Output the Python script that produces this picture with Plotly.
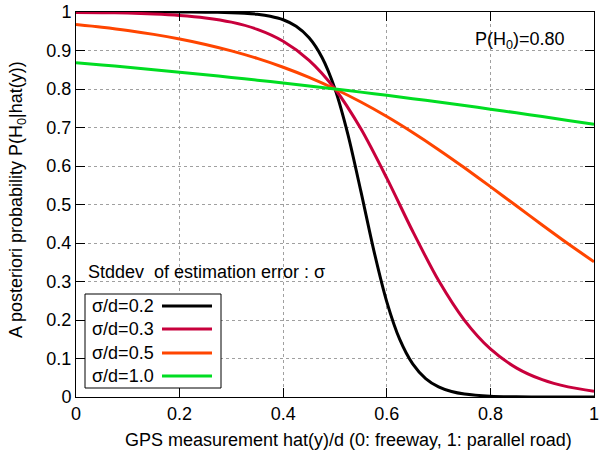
import plotly.graph_objects as go

# ---- data ----
x_s02 = [0.0, 0.1, 0.2, 0.25, 0.3, 0.325, 0.35, 0.375, 0.4, 0.425, 0.45, 0.475, 0.5,
         0.525, 0.55, 0.575, 0.6, 0.625, 0.65, 0.675, 0.7, 0.725, 0.75, 0.8, 0.85, 0.9, 1.0]
y_s02 = [1.0, 1.0, 0.9999, 0.9995, 0.9983, 0.9969, 0.9942, 0.9891, 0.9799, 0.9631, 0.9332, 0.8820, 0.8,
         0.6816, 0.5340, 0.3802, 0.2472, 0.1495, 0.0860, 0.0479, 0.0262, 0.0142, 0.0077, 0.0022, 0.0006, 0.0002, 0.0]

x_grid = [0.0, 0.05, 0.1, 0.15, 0.2, 0.25, 0.3, 0.35, 0.4, 0.45, 0.5,
          0.55, 0.6, 0.65, 0.7, 0.75, 0.8, 0.85, 0.9, 0.95, 1.0]
y_s03 = [0.9990, 0.9983, 0.9971, 0.9949, 0.9912, 0.9847, 0.9736, 0.9549, 0.9240, 0.8746, 0.8,
         0.6965, 0.5684, 0.4304, 0.3024, 0.1992, 0.1249, 0.0757, 0.0449, 0.0262, 0.0152]
y_s05 = [0.9673, 0.9603, 0.9520, 0.9419, 0.9300, 0.9158, 0.8990, 0.8794, 0.8565, 0.8301, 0.8,
         0.7661, 0.7284, 0.6870, 0.6425, 0.5954, 0.5464, 0.4966, 0.4468, 0.3980, 0.3512]
y_s10 = [0.8683, 0.8625, 0.8565, 0.8502, 0.8437, 0.8370, 0.8301, 0.8229, 0.8155, 0.8079, 0.8,
         0.7919, 0.7835, 0.7749, 0.7661, 0.7570, 0.7477, 0.7382, 0.7284, 0.7183, 0.7081]

series_names = ["σ/d=0.2", "σ/d=0.3", "σ/d=0.5", "σ/d=1.0"]
series_x = [x_s02, x_grid, x_grid, x_grid]
series_y = [y_s02, y_s03, y_s05, y_s10]
colors = ["#000000", "#c8003c", "#ff4500", "#00dd22"]

tick_vals_x = [0, 0.2, 0.4, 0.6, 0.8, 1]
tick_text_x = ["0", "0.2", "0.4", "0.6", "0.8", "1"]
tick_vals_y = [0, 0.1, 0.2, 0.3, 0.4, 0.5, 0.6, 0.7, 0.8, 0.9, 1]
tick_text_y = ["0", "0.1", "0.2", "0.3", "0.4", "0.5", "0.6", "0.7", "0.8", "0.9", "1"]

# ---- layout geometry (pixels) ----
W, H = 599, 453
L, R, T, B = 76, 5, 12, 56
PW, PH = W - L - R, H - T - B
FONT = "Liberation Sans, Arial, sans-serif"
FS = 18


def px(xp):
    return (xp - L) / PW


def py(yp):
    return (H - B - yp) / PH


fig = go.Figure()
for xs, ys, c, n in zip(series_x, series_y, colors, series_names):
    fig.add_trace(go.Scatter(x=xs, y=ys, mode="lines", name=n,
                             line=dict(color=c, width=3, shape="spline", smoothing=0.8),
                             showlegend=False))

axis_common = dict(range=[-1e-6, 1 + 1e-6], showline=True, linecolor="black", linewidth=1,
                   mirror="allticks", ticks="inside", ticklen=9, tickcolor="black",
                   showgrid=True, gridcolor="#a0a0a0", griddash="dot", gridwidth=1,
                   zeroline=False, ticklabeloverflow="allow",
                   tickfont=dict(family=FONT, size=FS, color="black"))

fig.update_xaxes(tickvals=tick_vals_x, ticktext=tick_text_x, **axis_common)
fig.update_yaxes(tickvals=tick_vals_y, ticktext=tick_text_y, **axis_common)

annotations = [
    dict(x=px(348), y=py(440), text="GPS measurement hat(y)/d (0: freeway, 1: parallel road)",
         xanchor="center", yanchor="middle"),
    dict(x=px(17), y=py(200), text="A posteriori probability P(H<sub>0</sub>|hat(y))",
         xanchor="center", yanchor="middle", textangle=-90),
    dict(x=px(567), y=py(40), text="P(H<sub>0</sub>)=0.80", xanchor="right", yanchor="middle"),
    dict(x=px(86), y=py(272), text="Stddev  of estimation error : σ", xanchor="left", yanchor="middle"),
]
shapes = [dict(type="rect", xref="paper", yref="paper", x0=px(85), x1=px(221), y0=py(388), y1=py(294),
               line=dict(color="black", width=1), fillcolor="white", layer="above")]
row_y = [306, 329, 353, 376]
for n, c, ry in zip(series_names, colors, row_y):
    annotations.append(dict(x=px(90), y=py(ry), text=n, xanchor="left", yanchor="middle"))
    shapes.append(dict(type="line", xref="paper", yref="paper", x0=px(162), x1=px(212),
                       y0=py(ry), y1=py(ry), line=dict(color=c, width=3), layer="above"))

for a in annotations:
    a.update(xref="paper", yref="paper", showarrow=False,
             font=dict(family=FONT, size=FS, color="black"))

fig.update_layout(width=W, height=H, margin=dict(l=L, r=R, t=T, b=B, autoexpand=False),
                  paper_bgcolor="white", plot_bgcolor="white",
                  annotations=annotations, shapes=shapes, showlegend=False)

fig.write_html("out.html", config={"displayModeBar": False},
               post_script="document.body.style.margin='0px';")
